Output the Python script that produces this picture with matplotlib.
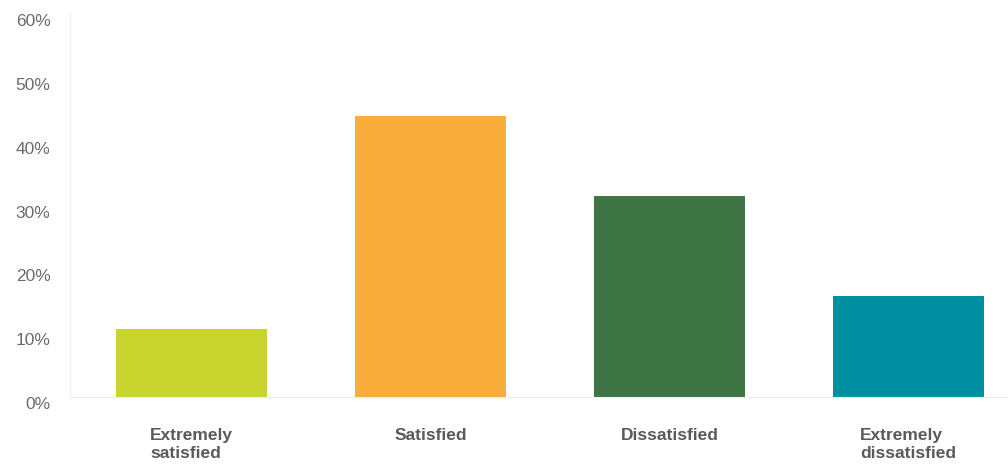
import matplotlib.pyplot as plt
from matplotlib.ticker import PercentFormatter
from matplotlib.transforms import ScaledTranslation

# Chart data
categories = ["Extremely\nsatisfied", "Satisfied", "Dissatisfied", "Extremely\ndissatisfied"]
values = [10.6, 44.0, 31.5, 15.9]
colors = ["#c9d52e", "#f9ae3b", "#3f7544", "#008fa1"]
y_ticks = [0, 10, 20, 30, 40, 50, 60]

plt.rcParams["font.family"] = ["Liberation Sans", "DejaVu Sans"]

fig = plt.figure(figsize=(10.08, 4.66), dpi=100)
ax = fig.add_axes([70 / 1008, 69 / 466, 938 / 1008, 383 / 466])

# Bars
ax.bar(range(len(values)), values, width=0.632, color=colors)

# Axes limits and ticks
ax.set_xlim(-0.508, 3.417)
ax.set_ylim(0, 60)
ax.set_yticks(y_ticks)
ax.yaxis.set_major_formatter(PercentFormatter(decimals=0))
ax.tick_params(axis="y", length=0, pad=14, labelsize=12.5, labelcolor="#6a6a6a")

# Tick labels in the reference sit a few pixels below their gridline value
shift = ScaledTranslation(0, -6 / 100, fig.dpi_scale_trans)
for label in ax.get_yticklabels():
    label.set_transform(label.get_transform() + shift)

ax.set_xticks(range(len(categories)))
ax.set_xticklabels(categories, fontsize=12.5, fontweight="bold", color="#5a5a5a",
                   multialignment="left", linespacing=1.3)
ax.tick_params(axis="x", length=0, pad=22)

# Spines
for side in ["top", "right"]:
    ax.spines[side].set_visible(False)
ax.spines["left"].set_color("#ececec")
ax.spines["bottom"].set_color("#ececec")

fig.savefig("out.png", dpi=100)
